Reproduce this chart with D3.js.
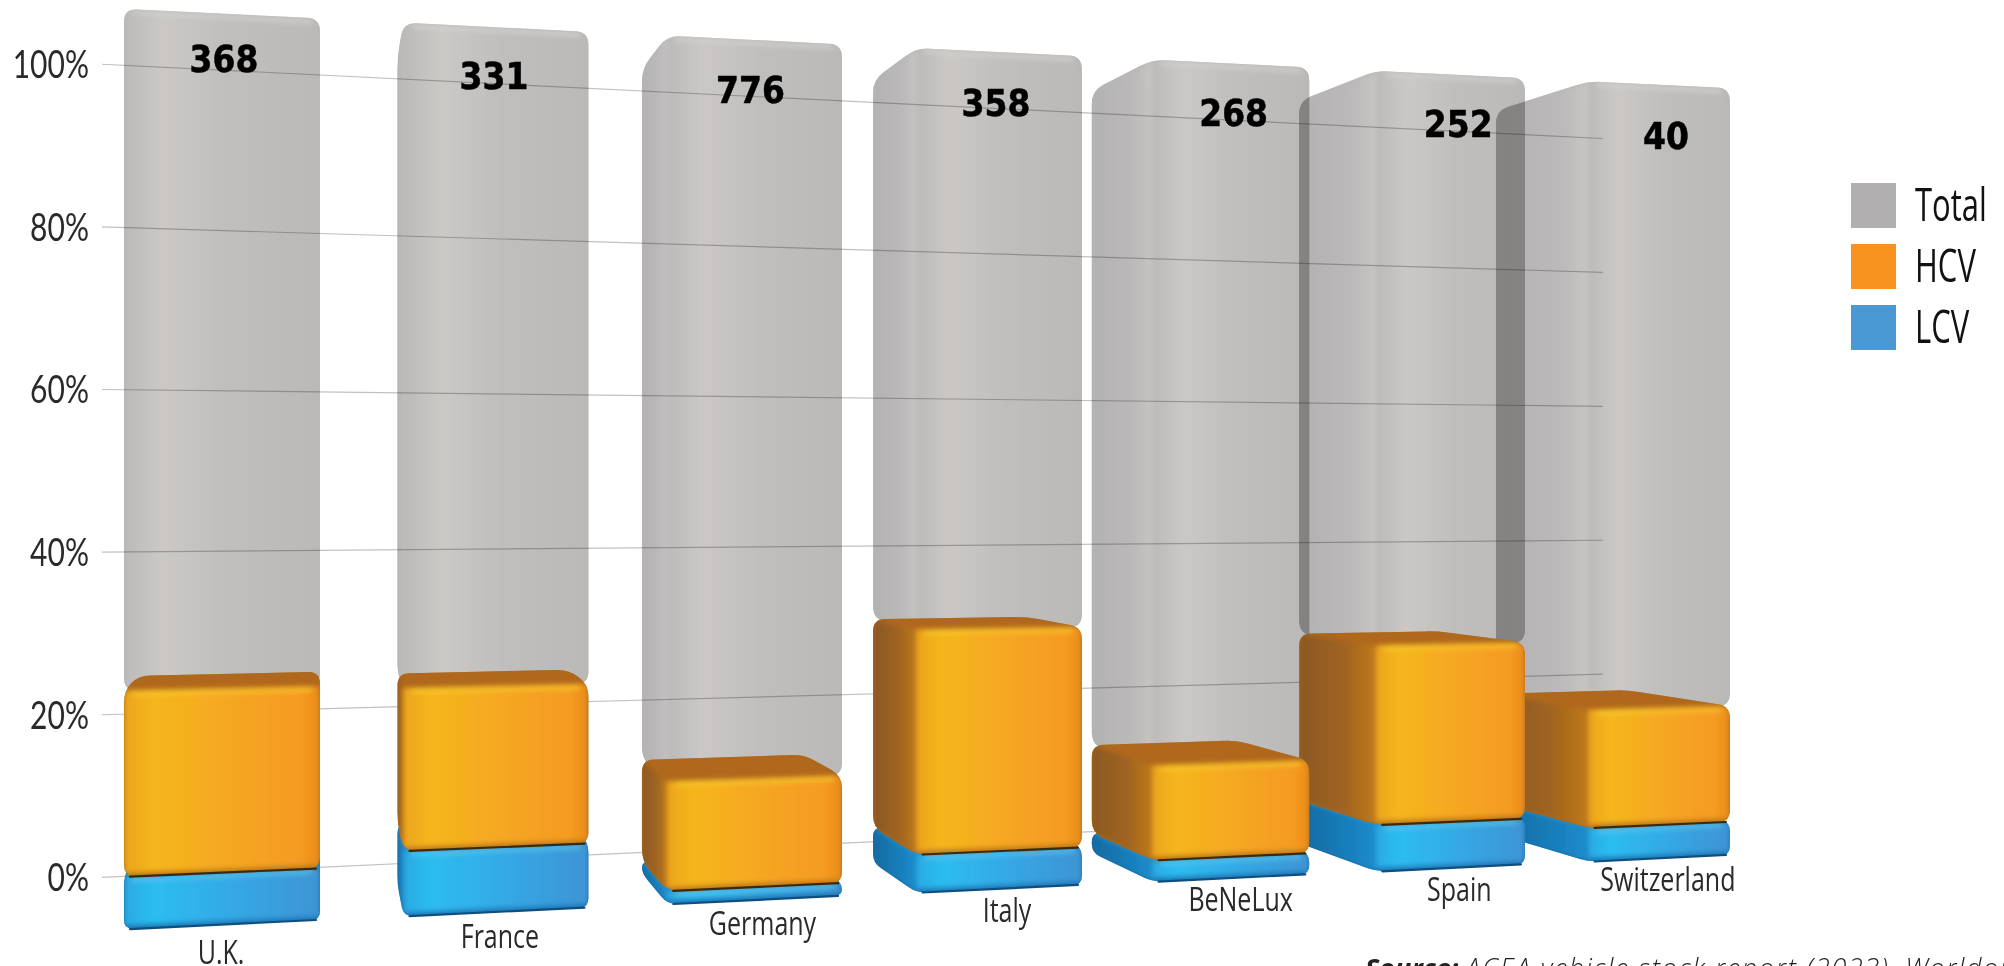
<!DOCTYPE html>
<html>
<head>
<meta charset="utf-8">
<script src="https://cdn.jsdelivr.net/npm/d3@7"></script>
<style>
  html, body { margin: 0; padding: 0; background: #fff; overflow: hidden; }
  svg { display: block; }
</style>
</head>
<body>
<svg id="chart" width="2004" height="966"></svg>
<script>
const countries = ["U.K.", "France", "Germany", "Italy", "BeNeLux", "Spain", "Switzerland"];
const lcvShare = [5.7, 7.3, 1.5, 4.5, 2.6, 5.8, 4.3];
const hcvShare = [20.2, 18.2, 12.6, 26.6, 11.5, 22.4, 15.1];
const totalShare = [100, 100, 100, 100, 100, 100, 100];
const stockLabels = ["368", "331", "776", "358", "268", "252", "40"];
const yTicks = [0, 20, 40, 60, 80, 100];
const legendNames = ["Total", "HCV", "LCV"];
const legendColors = ["#b1afb0", "#f9931f", "#4a98d4"];

const width = 2004;
const height = 966;
const svg = d3.select("#chart");

svg.append("rect").attr("width", width).attr("height", height).attr("fill", "#fff");
const defs = svg.append("defs");

// 1. Scales. x is in "bar steps", y is the front plane of the first bar
const xBand = d3.scaleBand().domain(countries).range([-0.695, 6]).paddingInner(0.305);
const yScale = d3.scaleLinear().domain([0, 100]).range([920, 18.5]);

// camera: bars shrink going right, everything pulls to a vanishing point going back
const vanishX = 320;
const horizon = 485;
const stepPx = 276.3;
const shrink = 0.0293;
const depthK = 0.073;

function proj(X, v, z) {
  const w = 1 + shrink * X;
  const k = 1 - depthK * z;
  const sx = vanishX + (stepPx * X / w) * k;
  const sy = horizon + ((yScale(v) - horizon) / w) * k;
  return [sx, sy];
}

// 2. Palettes
const gradient = (id, stops) => {
  const g = defs.append("linearGradient").attr("id", id)
    .attr("x1", 0).attr("x2", 1).attr("y1", 0).attr("y2", 0);
  stops.forEach(s => g.append("stop").attr("offset", s[0]).attr("stop-color", s[1]));
  return `url(#${id})`;
};

const palGrey = {
  front: gradient("gFront", [[0, "#bcbab9"], [0.2, "#cbc8c6"], [0.5, "#c1bfbd"], [1, "#bbb9b7"]]),
  side: gradient("gSide", [[0, "#b3b2b2"], [0.7, "#bbb9b9"], [1, "#c8c6c4"]]),
  top: "#bdbbba", edge: "#b8b6b5", hi: "#d6d4d2", low: null, band: null, r: 13
};
const palOrange = {
  front: gradient("oFront", [[0, "#eca41f"], [0.15, "#f5b61d"], [0.55, "#f5a622"], [0.9, "#f59b20"], [1, "#e98b1a"]]),
  side: gradient("oSide", [[0, "#8b5820"], [0.6, "#a06420"], [1, "#c07a1c"]]),
  top: "#b0681f", edge: "#a86a1a", hi: "#fbc92e", low: "#3a2a12", band: "#c47d14", r: 12
};
const palBlue = {
  front: gradient("bFront", [[0, "#2aa9e3"], [0.15, "#2cbdf0"], [0.6, "#35a6e3"], [1, "#3f94d4"]]),
  side: gradient("bSide", [[0, "#1269a0"], [1, "#1c8ccc"]]),
  top: "#2a8fc8", edge: "#1a6da8", hi: "#5cc6ee", low: "#0e4f80", band: "#1f7cbc", r: 9
};

defs.append("filter").attr("id", "soft")
  .attr("x", "-5%").attr("y", "-5%").attr("width", "110%").attr("height", "110%")
  .append("feGaussianBlur").attr("stdDeviation", 2.4);

// corners cut with a small curve, r clamped so short edges survive
function roundedPath(pts, r) {
  const n = pts.length;
  let d = "";
  pts.forEach((p, i) => {
    const a = pts[(i + n - 1) % n];
    const b = pts[(i + 1) % n];
    const la = Math.hypot(a[0] - p[0], a[1] - p[1]);
    const lb = Math.hypot(b[0] - p[0], b[1] - p[1]);
    const ra = Math.min(r, la / 2) / la;
    const rb = Math.min(r, lb / 2) / lb;
    const p1 = [p[0] + (a[0] - p[0]) * ra, p[1] + (a[1] - p[1]) * ra];
    const p2 = [p[0] + (b[0] - p[0]) * rb, p[1] + (b[1] - p[1]) * rb];
    d += `${i === 0 ? "M" : "L"}${p1[0]},${p1[1]}Q${p[0]},${p[1]} ${p2[0]},${p2[1]}`;
  });
  return d + "Z";
}

let boxId = 0;
function drawBox(parent, name, v0, v1, pal) {
  const X0 = xBand(name);
  const X1 = X0 + xBand.bandwidth();
  const fbl = proj(X0, v0, 0), fbr = proj(X1, v0, 0), ftl = proj(X0, v1, 0), ftr = proj(X1, v1, 0);
  const bbl = proj(X0, v0, 1), bbr = proj(X1, v0, 1), btl = proj(X0, v1, 1), btr = proj(X1, v1, 1);

  const outline = roundedPath(d3.polygonHull([fbl, fbr, ftl, ftr, bbl, bbr, btl, btr]), pal.r);
  const id = `box${boxId++}`;
  defs.append("clipPath").attr("id", id).append("path").attr("d", outline);

  const g = parent.append("g");
  g.append("path").attr("d", outline).attr("fill", pal.edge);

  const inner = g.append("g").attr("clip-path", `url(#${id})`).append("g").attr("filter", "url(#soft)");
  const poly = (pts, fill) => inner.append("polygon").attr("points", pts.join(" ")).attr("fill", fill);

  if (fbl[0] > bbl[0]) poly([fbl, bbl, btl, ftl], pal.side);
  if (ftr[1] > btr[1]) poly([ftl, btl, btr, ftr], pal.top);
  poly([ftl, ftr, fbr, fbl], pal.front);

  inner.append("line")
    .attr("x1", ftl[0] + 8).attr("y1", ftl[1] + 3).attr("x2", ftr[0] - 8).attr("y2", ftr[1] + 3)
    .attr("stroke", pal.hi).attr("stroke-width", 3);

  if (pal.band) {
    inner.append("line")
      .attr("x1", fbl[0]).attr("y1", fbl[1] - 2).attr("x2", fbr[0]).attr("y2", fbr[1] - 2)
      .attr("stroke", pal.band).attr("stroke-width", 4);
  }
  if (pal.low) {
    g.append("line")
      .attr("x1", fbl[0] + 6).attr("y1", fbl[1]).attr("x2", fbr[0] - 4).attr("y2", fbr[1])
      .attr("stroke", pal.low).attr("stroke-width", 2.2).attr("stroke-linecap", "round");
  }
  return g;
}

// stretched text, the source art is tall and narrow
function tallText(x, y, str, size, stretch, family, anchor, weight, fill) {
  return svg.append("text")
    .attr("transform", `translate(${x},${y}) scale(1,${stretch})`)
    .attr("text-anchor", anchor)
    .attr("font-family", family)
    .attr("font-size", size)
    .attr("font-weight", weight)
    .attr("fill", fill)
    .text(str);
}

// 3. Gridlines sit on a wall behind the bars
const wallZ = 1.66;
const wallX = [-0.875, 6.25];
const gridLine = d3.line();
svg.append("g").selectAll("path").data(yTicks).join("path")
  .attr("d", t => gridLine(wallX.map(X => proj(X, t, wallZ))))
  .attr("fill", "none")
  .attr("stroke", "#c2c0c0")
  .attr("stroke-width", 1.2);

// 4. Bars, far ones first so nearer ones cover them. All the glass goes down before the solid parts
const glassLayer = svg.append("g");
const solidLayer = svg.append("g");
countries.map((name, i) => ({ name, i })).reverse().forEach(({ name, i }) => {
  const lcvTop = lcvShare[i];
  const hcvTop = lcvTop + hcvShare[i];
  drawBox(glassLayer, name, hcvTop, totalShare[i], palGrey).style("mix-blend-mode", "multiply");
  const bar = solidLayer.append("g");
  drawBox(bar, name, 0, lcvTop, palBlue);
  drawBox(bar, name, lcvTop, hcvTop, palOrange);
});

// 5. Text
const labelFont = "'Open Sans', sans-serif";
yTicks.forEach(t => {
  const p = proj(wallX[0], t, wallZ);
  tallText(p[0] - 13, p[1] + 14, `${t}%`, 30, 1.3, "Lato, sans-serif", "end", 400, "#2a2a2a");
});

// small hand placement, the labels in the source are not quite on the perspective
const stockNudge = [[1, -1], [-3, 4], [-5, 6], [-4, 8], [2, 8], [7, 9], [6, 12]];
const nameNudge = [[-2, 2], [3, -2], [7, -3], [7, -5], [9, -5], [8, -5], [8, -5]];

countries.forEach((name, i) => {
  const cx = xBand(name) + xBand.bandwidth() / 2;
  const base = proj(cx, 0, 0);
  tallText(base[0] + nameNudge[i][0], base[1] + 38 + nameNudge[i][1], name, 25, 1.3, labelFont, "middle", 400, "#2a2a2a");
  const top = proj(cx, 95, 0);
  tallText(top[0] + stockNudge[i][0], top[1] + 14 + stockNudge[i][1], stockLabels[i], 33, 1.12, "'DejaVu Sans', sans-serif", "middle", 700, "#000")
    .attr("stroke", "#000").attr("stroke-width", 0.5);
});

// 6. Legend
const legendY = d3.scalePoint().domain(legendNames).range([183, 305]);
legendNames.forEach((name, i) => {
  svg.append("rect")
    .attr("x", 1851).attr("y", legendY(name))
    .attr("width", 45).attr("height", 45)
    .attr("fill", legendColors[i]);
  tallText(1915, legendY(name) + 38, name, 31, 1.45, labelFont, "start", 400, "#111");
});

// 7. Source line, runs off the page in the reference too
const source = svg.append("text")
  .attr("x", 1365).attr("y", 978)
  .attr("font-family", labelFont)
  .attr("font-size", 27)
  .attr("font-style", "italic")
  .attr("fill", "#222");
source.append("tspan").attr("font-weight", 700).text("Source: ");
source.append("tspan").attr("font-weight", 300).attr("letter-spacing", 1.6)
  .text("ACEA vehicle stock report (2023), Worldometer");
</script>
</body>
</html>
